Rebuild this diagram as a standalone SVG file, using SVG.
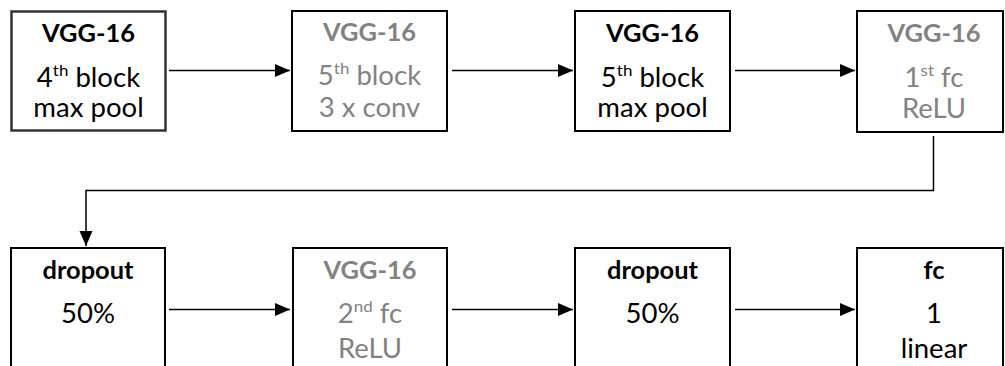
<svg xmlns="http://www.w3.org/2000/svg" width="1005" height="366" viewBox="0 0 1005 366">
<style>
.box{fill:#fff;stroke:#000;stroke-width:2}
.box1{fill:#fff;stroke:#333;stroke-width:2.5}
text{font-family:Lato,"Open Sans",sans-serif;text-anchor:middle;fill:#000}
.t{font-weight:bold;font-size:24px}
.b{font-size:26px}
.g text{fill:#828282}
.c{fill:none;stroke:#000;stroke-width:1.5}
</style>
<defs>
<marker id="ah" markerUnits="userSpaceOnUse" markerWidth="16" markerHeight="14" refX="15" refY="6.5" orient="auto">
<path d="M0,0 L15,6.5 L0,13 z" fill="#000"/>
</marker>
</defs>
<g id="connectors">
<line class="c" x1="169" y1="70.5" x2="290" y2="70.5" marker-end="url(#ah)"/>
<line class="c" x1="452" y1="70.5" x2="573" y2="70.5" marker-end="url(#ah)"/>
<line class="c" x1="735" y1="70.5" x2="855" y2="70.5" marker-end="url(#ah)"/>
<polyline class="c" points="933.5,136 933.5,190.5 86,190.5 86,246" marker-end="url(#ah)"/>
<line class="c" x1="169" y1="309.5" x2="290" y2="309.5" marker-end="url(#ah)"/>
<line class="c" x1="452" y1="309.5" x2="573" y2="309.5" marker-end="url(#ah)"/>
<line class="c" x1="735" y1="309.5" x2="855" y2="309.5" marker-end="url(#ah)"/>
</g>
<g id="n1">
<rect class="box1" x="11.5" y="11.5" width="154" height="119"/>
<g transform="translate(88.5,0) scale(1.06,1)">
<text class="t" x="0" y="42">VGG-16</text>
<text class="b" x="0" y="87">4<tspan dy="-11" font-size="16">th</tspan><tspan dy="11"> block</tspan></text>
<text class="b" x="0" y="117">max pool</text>
</g>
</g>
<g id="n2" class="g">
<rect class="box" x="292" y="11" width="155" height="120"/>
<g transform="translate(369.5,0) scale(1.06,1)">
<text class="t" x="0" y="41">VGG-16</text>
<text class="b" x="0" y="85">5<tspan dy="-11" font-size="16">th</tspan><tspan dy="11"> block</tspan></text>
<text class="b" x="0" y="117">3 x conv</text>
</g>
</g>
<g id="n3">
<rect class="box" x="575" y="11" width="155" height="120"/>
<g transform="translate(652.5,0) scale(1.06,1)">
<text class="t" x="0" y="42">VGG-16</text>
<text class="b" x="0" y="87">5<tspan dy="-11" font-size="16">th</tspan><tspan dy="11"> block</tspan></text>
<text class="b" x="0" y="117">max pool</text>
</g>
</g>
<g id="n4" class="g">
<rect class="box" x="857" y="11" width="146" height="121"/>
<g transform="translate(934,0) scale(1.06,1)">
<text class="t" x="0" y="42">VGG-16</text>
<text class="b" x="0" y="87">1<tspan dy="-11" font-size="16">st</tspan><tspan dy="11"> fc</tspan></text>
<text class="b" x="0" y="118">ReLU</text>
</g>
</g>
<g id="n5">
<rect class="box" x="11" y="248" width="154" height="130"/>
<g transform="translate(88,0) scale(1.06,1)">
<text class="t" x="0" y="279">dropout</text>
<text class="b" x="0" y="323">50%</text>
</g>
</g>
<g id="n6" class="g">
<rect class="box" x="293" y="248" width="154" height="130"/>
<g transform="translate(370,0) scale(1.06,1)">
<text class="t" x="0" y="279">VGG-16</text>
<text class="b" x="0" y="323">2<tspan dy="-11" font-size="16">nd</tspan><tspan dy="11"> fc</tspan></text>
<text class="b" x="0" y="358">ReLU</text>
</g>
</g>
<g id="n7">
<rect class="box" x="575" y="248" width="155" height="130"/>
<g transform="translate(652.5,0) scale(1.06,1)">
<text class="t" x="0" y="279">dropout</text>
<text class="b" x="0" y="323">50%</text>
</g>
</g>
<g id="n8">
<rect class="box" x="857" y="248" width="146" height="130"/>
<g transform="translate(934,0) scale(1.06,1)">
<text class="t" x="0" y="279">fc</text>
<text class="b" x="0" y="323">1</text>
<text class="b" x="0" y="358">linear</text>
</g>
</g>
</svg>
